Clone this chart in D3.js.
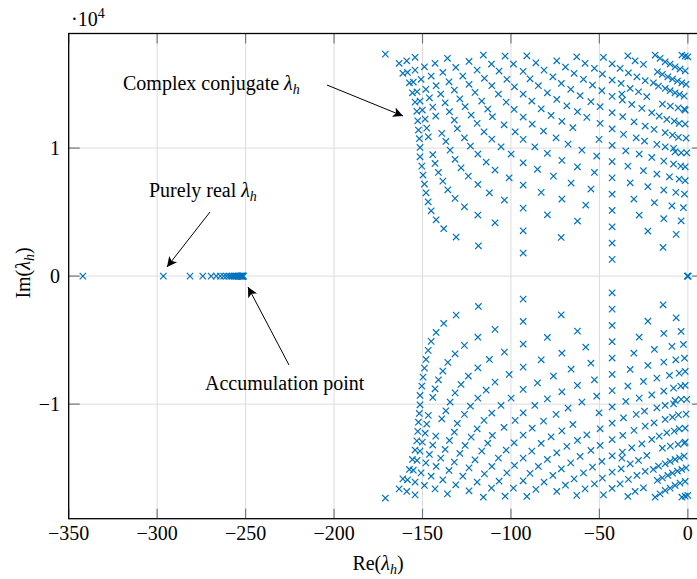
<!DOCTYPE html>
<html>
<head>
<meta charset="utf-8">
<script src="https://cdn.jsdelivr.net/npm/d3@7"></script>
<style>
  body { margin: 0; background: #fff; }
  text { font-family: "Liberation Serif", "DejaVu Serif", serif; }
</style>
</head>
<body>
<div id="chart"></div>
<script>
// axis ticks (y in units of 1e4)
const xTicks = [-350, -300, -250, -200, -150, -100, -50, 0];
const yTicks = [-1, 0, 1];

// purely real eigenvalues (Im = 0)
const realRe = [-342, -296.5, -281.4, -274.2, -269.5, -266.6, -264.3, -262.4, -260.8,
  -259.5, -258.4, -257.4, -256.5, -255.7, -255.0, -254.4, -253.9, -253.4, -253.0,
  -252.6, -252.3, -252.0, -251.8, -251.6, -251.4, -251.2, 0, -0.3, 0.2];

// complex eigenvalues, upper half only [Re, Im]; the lower half is the conjugate
// left lobe, Re from -171 to -105
const leftPts = [
  [-171.0,17340],[-163.2,16620],[-158.9,16820],[-154.2,17090],[-148.9,16350],[-142.9,16620],[-135.9,17010],
  [-131.2,16300],[-123.7,16770],[-119.1,16090],[-115.6,17270],[-111.0,16560],
  [-161.1,15840],[-158.5,15910],[-154.2,16090],[-145.1,15630],[-138.5,15910],[-135.0,15180],[-127.2,15630],
  [-123.7,14980],[-115.0,15450],
  [-157.4,15100],[-155.2,15160],[-150.8,15370],[-142.3,14870],[-132.0,14530],[-120.3,14350],[-116.5,13670],
  [-155.7,14320],[-153.1,14400],[-148.1,14590],[-139.7,14220],[-128.9,13850],
  [-154.2,13590],[-151.4,13670],[-146.1,13930],[-137.2,13540],[-125.9,13230],[-113.1,13050],
  [-153.2,12870],[-150.1,12970],[-144.2,13200],[-134.8,12840],[-122.5,12580],[-119.1,11930],
  [-152.7,12130],[-148.5,12270],[-142.5,12500],[-132.0,12190],[-110.5,12450],
  [-152.3,11410],[-147.6,11560],[-139.1,11150],[-130.3,11510],[-115.2,11270],
  [-151.8,10730],[-146.7,10880],[-136.8,10520],[-126.3,10800],
  [-151.4,10050],[-134.4,9840],[-122.9,10160],
  [-151.4,9320],[-144.2,9480],[-118.7,9530],
  [-150.4,8590],[-142.9,8800],[-131.6,9120],[-114.0,8910],
  [-149.7,7890],[-141.0,8100],[-128.2,8460],[-109.0,8280],
  [-148.9,7190],[-138.5,7420],[-124.1,7810],
  [-148.0,6510],[-135.7,6740],[-118.7,7160],[-112.2,6510],
  [-146.8,5800],[-131.6,6070],[-126.3,5410],
  [-145.1,5100],[-118.7,4770],
  [-142.3,4400],[-138.0,3700],[-131.0,3050],[-118.4,2370],[-109.0,4160]
];
// middle lobe, Re from -111 to -55
const midPts = [
  [-91.0,17210],[-103.3,17190],[-98.6,16560],[-85.9,16660],[-74.1,16820],[-62.8,17130],
  [-106.7,16020],[-81.3,16090],[-69.2,16330],[-58.1,16620],
  [-102.3,15370],[-89.2,15410],[-76.3,15570],[-64.3,15840],[-59.0,15370],
  [-110.8,14870],[-98.0,14790],[-84.5,14870],[-71.5,15050],
  [-107.1,14220],[-79.4,14320],[-66.2,14590],
  [-102.7,13590],[-88.2,13670],[-74.1,13800],[-60.9,14090],
  [-98.2,13020],[-82.9,13070],[-68.4,13300],[-57.1,12400],
  [-77.3,12550],[-62.4,12840],
  [-103.9,11820],[-88.0,11880],[-71.2,12090],
  [-97.6,11270],[-81.6,11330],[-65.0,11590],
  [-110.8,10700],[-74.5,10800],
  [-105.6,10100],[-86.5,10100],[-67.7,10310],
  [-99.9,9530],[-79.4,9590],[-59.9,9840],
  [-71.2,9040],[-85.0,8340],[-62.4,8540],[-101.0,7680],[-76.0,7810],[-66.0,7270],
  [-82.9,6540],[-103.7,5940],[-71.2,6020],[-57.7,5550],[-79.4,4790],[-62.4,4300],[-71.6,3020]
];
// right lobe, Re from -56 to 0
const rightPts = [
  [-47.7,17090],[-52.8,16230],[-38.3,16230],[-33.9,17210],[-29.8,16820],[-25.1,16540],
  [-33.6,15880],[-28.8,15570],[-24.1,15260],
  [-18.5,17270],[-15.7,17010],[-12.8,16740],[-10.0,16560],[-7.2,16350],[-4.4,16170],[-1.5,16040],
  [-3.4,17270],[-1.5,17190],[0,17130],
  [-17.2,15960],[-14.4,15760],[-11.3,15570],[-8.7,15390],[-5.9,15230],[-3.4,15100],[-1.0,14980],
  [-48.3,15780],[-37.7,15050],[-32.6,14660],[-27.9,14400],[-23.2,14010],
  [-19.5,15100],[-16.6,14840],[-12.8,14660],[-10.0,14480],[-7.2,14320],[-4.7,14200],[-2.1,14060],
  [-53.9,14920],[-48.6,14480],[-37.3,14220],
  [-54.8,13620],[-49.6,13230],[-37.0,13750],[-31.7,13410],[-26.0,13100],[-20.4,12760],[-16.2,12500],
  [-11.9,12240],[-7.7,12110],[-4.9,11930],[-14.4,13440],[-9.9,13280],[-5.5,13140],[-2.0,13050],
  [-36.8,12450],[-30.4,12050],[-24.1,11720],[-19.1,11460],[-12.8,11200],[-8.7,11020],[-5.3,10840],
  [-49.6,11930],[-36.4,11070],[-29.2,10800],[-24.5,10550],[-17.5,10290],[-12.8,10100],[-8.1,9980],
  [-50.2,10680],
  [-1.5,12970],[-1.5,11880],[-1.0,10780],
  [-51.5,9380],[-35.1,9790],[-27.5,9530],[-20.4,9270],[-13.6,8980],[-8.1,8750],[-4.0,8590],[-1.5,8540],
  [-7.2,9710],[-3.8,9630],[-0.6,9630],
  [-52.8,8100],[-33.9,8590],[-25.1,8230],[-17.5,7970],[-10.4,7760],[-4.9,7580],[-1.5,7450],
  [-54.8,6800],[-32.6,7290],[-22.6,6980],[-13.6,6720],[-6.8,6540],[-1.9,6410],
  [-30.5,6020],[-18.9,5730],[-9.0,5490],[-2.5,5340],
  [-27.5,4770],[-13.6,4480],[-3.8,4320],
  [-22.6,3520],[-6.6,3260],[-14.0,2240]
];
// two vertical columns of evenly spaced modes
const col93Re = -93.1;
const col93Im = [1800, 3540, 5310, 7110, 8850, 10680, 12420, 14220, 15990];
const col43Re = -42.8;
const col43Im = [1305, 2578, 3852, 5125, 6398, 7672, 8945, 10219, 11492, 12766, 14039, 15313, 16586];

const W = 697, H = 579;
const m = { left: 68.7, top: 33.5, right: 702, bottom: 518.7 };

const svg = d3.select("#chart").append("svg")
  .attr("width", W).attr("height", H);

const x = d3.scaleLinear().domain([-350, 8]).range([m.left, m.right]);
const y = d3.scaleLinear().domain([-1.895, 1.895]).range([m.bottom, m.top]);

// grid
const grid = svg.append("g").attr("stroke", "#dcdcdc").attr("stroke-width", 1);
xTicks.filter(d => d > -350).forEach(d => {
  grid.append("line").attr("x1", x(d)).attr("x2", x(d)).attr("y1", m.top).attr("y2", m.bottom);
});
yTicks.forEach(d => {
  grid.append("line").attr("x1", m.left).attr("x2", m.right).attr("y1", y(d)).attr("y2", y(d));
});

// ticks, drawn inside the box
const tk = svg.append("g").attr("stroke", "#777").attr("stroke-width", 1.2);
xTicks.forEach(d => {
  tk.append("line").attr("x1", x(d)).attr("x2", x(d)).attr("y1", m.bottom).attr("y2", m.bottom - 10);
  tk.append("line").attr("x1", x(d)).attr("x2", x(d)).attr("y1", m.top).attr("y2", m.top + 10);
});
yTicks.forEach(d => {
  tk.append("line").attr("x1", m.left).attr("x2", m.left + 11).attr("y1", y(d)).attr("y2", y(d));
  tk.append("line").attr("x1", m.right).attr("x2", m.right - 10).attr("y1", y(d)).attr("y2", y(d));
});

// frame
svg.append("rect").attr("x", m.left).attr("y", m.top)
  .attr("width", m.right - m.left).attr("height", m.bottom - m.top)
  .attr("fill", "none").attr("stroke", "#000").attr("stroke-width", 1.3);

// tick labels
const fmt = d => d < 0 ? "\u2212" + Math.abs(d) : String(d);
xTicks.forEach(d => {
  svg.append("text").attr("x", x(d)).attr("y", 540).attr("text-anchor", "middle")
    .attr("font-size", 20).text(fmt(d));
});
yTicks.forEach(d => {
  svg.append("text").attr("x", 60).attr("y", y(d) + 7).attr("text-anchor", "end")
    .attr("font-size", 20).text(fmt(d));
});

// scale factor
const sc = svg.append("text").attr("x", 71).attr("y", 26).attr("font-size", 20);
sc.append("tspan").text("\u00b710");
sc.append("tspan").attr("dy", -8).attr("font-size", 14).text("4");

// axis labels
function lam(sel, pre) {
  sel.append("tspan").text(pre + "(");
  sel.append("tspan").attr("font-style", "italic").text("\u03bb");
  sel.append("tspan").attr("font-style", "italic").attr("font-size", 14).attr("dy", 4).text("h");
  sel.append("tspan").attr("dy", -4).text(")");
}
const xl = svg.append("text").attr("x", 378).attr("y", 570).attr("text-anchor", "middle").attr("font-size", 20);
lam(xl, "Re");
const yl = svg.append("text").attr("transform", "translate(30,273) rotate(-90)")
  .attr("text-anchor", "middle").attr("font-size", 20);
lam(yl, "Im");

// points
const pts = [];
realRe.forEach(r => pts.push([r, 0]));
const upper = [].concat(leftPts, midPts, rightPts);
col93Im.forEach(v => upper.push([col93Re, v]));
col43Im.forEach(v => upper.push([col43Re, v]));
upper.forEach(p => { pts.push([p[0], p[1]]); pts.push([p[0], -p[1]]); });

const s = 3.2;
svg.append("g").attr("stroke", "#0072bd").attr("stroke-width", 1.2)
  .selectAll("path").data(pts).join("path")
  .attr("d", d => {
    const px = x(d[0]), py = y(d[1] / 1e4);
    return `M${px - s},${py - s}L${px + s},${py + s}M${px - s},${py + s}L${px + s},${py - s}`;
  });

// annotations
function label(xp, yp, pre, withLam) {
  const t = svg.append("text").attr("x", xp).attr("y", yp).attr("font-size", 20);
  t.append("tspan").text(pre);
  if (withLam) {
    t.append("tspan").attr("font-style", "italic").text("\u03bb");
    t.append("tspan").attr("font-style", "italic").attr("font-size", 14).attr("dy", 4).text("h");
  }
}
label(123, 90, "Complex conjugate ", true);
label(149, 197, "Purely real ", true);
label(205, 390, "Accumulation point", false);

svg.append("defs").append("marker").attr("id", "ah")
  .attr("viewBox", "0 0 10 10").attr("refX", 10).attr("refY", 5)
  .attr("markerWidth", 14).attr("markerHeight", 10).attr("markerUnits", "userSpaceOnUse")
  .attr("orient", "auto")
  .append("path").attr("d", "M0,0L10,5L0,10L2.5,5Z").attr("fill", "#000");

function arrow(x1, y1, x2, y2) {
  svg.append("line").attr("x1", x1).attr("y1", y1).attr("x2", x2).attr("y2", y2)
    .attr("stroke", "#000").attr("stroke-width", 1).attr("marker-end", "url(#ah)");
}
arrow(327, 85, 403, 116);
arrow(210, 212, 167, 267);
arrow(289, 365, 248, 287);
</script>
</body>
</html>
